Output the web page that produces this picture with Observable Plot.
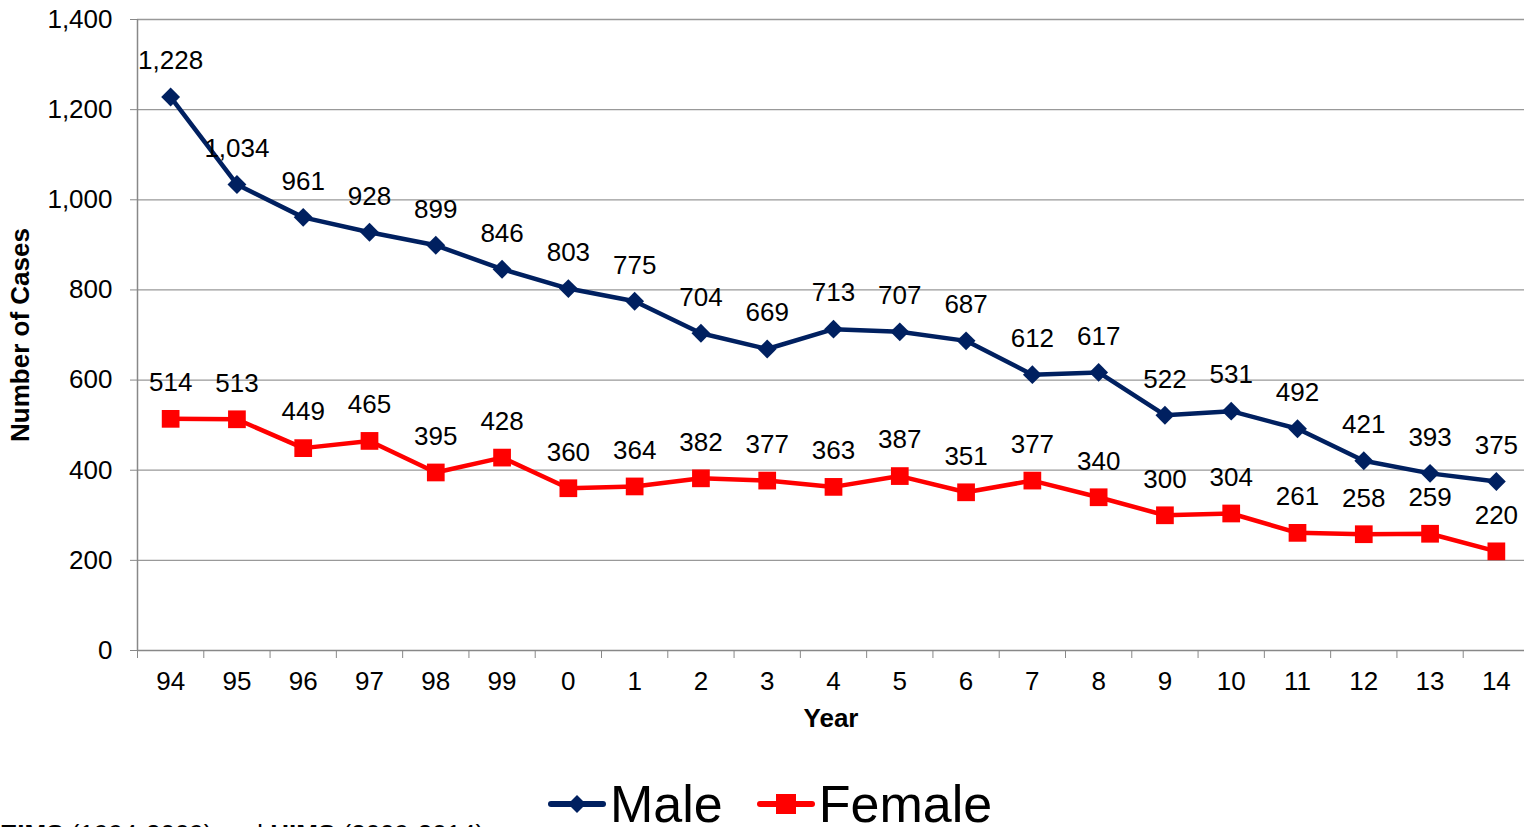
<!DOCTYPE html>
<html>
<head>
<meta charset="utf-8">
<script src="https://cdn.jsdelivr.net/npm/d3@7"></script>
<script src="https://cdn.jsdelivr.net/npm/@observablehq/plot@0.6"></script>
<style>
  html, body { margin: 0; padding: 0; background: #fff; overflow: hidden; }
  body { font-family: "Liberation Sans", Arial, sans-serif; width: 1524px; height: 827px; position: relative; }
  #legend { position: absolute; left: 548px; top: 774px; display: flex; align-items: center; font-size: 52px; color: #000; white-space: nowrap; }
  #legend .item { display: flex; align-items: center; margin-right: 34px; }
  #legend svg { margin-right: 4px; }
  #source { position: absolute; left: 0; top: 819px; font-size: 26px; color: #000; white-space: nowrap; }
</style>
</head>
<body>
<div id="chart"></div>
<div id="legend"></div>
<div id="source"><b>EIMS</b> (1994-2009) and <b>HIMS</b> (2009-2014)</div>
<script>
const years = ["94","95","96","97","98","99","0","1","2","3","4","5","6","7","8","9","10","11","12","13","14"];
const male = [1228,1034,961,928,899,846,803,775,704,669,713,707,687,612,617,522,531,492,421,393,375];
const female = [514,513,449,465,395,428,360,364,382,377,363,387,351,377,340,300,304,261,258,259,220];
const yTicks = [0,200,400,600,800,1000,1200,1400];
const seriesNames = ["Male","Female"];
const seriesColors = ["#002060","#FF0000"];

const fmt = d3.format(",");
const idx = years.map((_, i) => i);
const bounds = d3.range(years.length + 1).map(i => i - 0.5);
const maleData = male.map((v, i) => ({i, v}));
const femaleData = female.map((v, i) => ({i, v}));

const font = "Liberation Sans, Arial, sans-serif";

const chart = Plot.plot({
  width: 1524,
  height: 760,
  marginTop: 19,
  marginBottom: 110,
  marginLeft: 137,
  marginRight: 0,
  style: {fontFamily: font, fontSize: "26px", color: "#000", background: "#fff"},
  x: {type: "linear", domain: [-0.5, years.length - 0.5], range: [137, 1529]},
  y: {domain: [0, 1400]},
  marks: [
    Plot.gridY(yTicks.filter(d => d > 0), {stroke: "#999", strokeOpacity: 1, strokeWidth: 1.3}),
    Plot.ruleX([-0.5], {stroke: "#888", strokeWidth: 1.5}),
    Plot.ruleY([0], {stroke: "#888", strokeWidth: 1.5}),
    Plot.axisY({ticks: yTicks, tickFormat: fmt, tickSize: 7, tickPadding: 18, stroke: "#888", fontSize: 26, label: null}),
    Plot.axisY({ticks: [], label: "Number of Cases", labelAnchor: "center", labelArrow: "none", labelOffset: 127, fontSize: 26, fontWeight: "bold"}),
    Plot.axisX({ticks: bounds, tickFormat: () => "", tickSize: 8, stroke: "#888", label: null}),
    Plot.axisX({ticks: idx, tickFormat: i => years[i], tickSize: 0, tickPadding: 21, fontSize: 26, label: null}),
    Plot.axisX({ticks: [], label: "Year", labelAnchor: "center", labelArrow: "none", labelOffset: 76, fontSize: 26, fontWeight: "bold"}),
    Plot.line(femaleData, {x: "i", y: "v", stroke: seriesColors[1], strokeWidth: 4.5}),
    Plot.dot(femaleData, {x: "i", y: "v", symbol: "square", r: 10, fill: seriesColors[1], stroke: "none"}),
    Plot.line(maleData, {x: "i", y: "v", stroke: seriesColors[0], strokeWidth: 4.5}),
    Plot.dot(maleData, {x: "i", y: "v", symbol: "diamond2", r: 8.5, fill: seriesColors[0], stroke: "none"}),
    Plot.text(maleData, {x: "i", y: "v", text: d => fmt(d.v), dy: -36, fontSize: 26, fill: "#000"}),
    Plot.text(femaleData, {x: "i", y: "v", text: d => fmt(d.v), dy: -36, fontSize: 26, fill: "#000"})
  ]
});
document.getElementById("chart").appendChild(chart);

// Legend
const legend = document.getElementById("legend");
seriesNames.forEach((name, k) => {
  const item = document.createElement("div");
  item.className = "item";
  const s = d3.create("svg").attr("width", 58).attr("height", 30);
  s.append("line").attr("x1", 3).attr("x2", 55).attr("y1", 15).attr("y2", 15)
    .attr("stroke", seriesColors[k]).attr("stroke-width", 6).attr("stroke-linecap", "round");
  if (k === 0) {
    s.append("path").attr("d", "M29,6 L38,15 L29,24 L20,15 Z").attr("fill", seriesColors[k]);
  } else {
    s.append("rect").attr("x", 19).attr("y", 5).attr("width", 20).attr("height", 20).attr("fill", seriesColors[k]);
  }
  item.appendChild(s.node());
  const t = document.createElement("span");
  t.textContent = name;
  item.appendChild(t);
  legend.appendChild(item);
});
</script>
</body>
</html>
